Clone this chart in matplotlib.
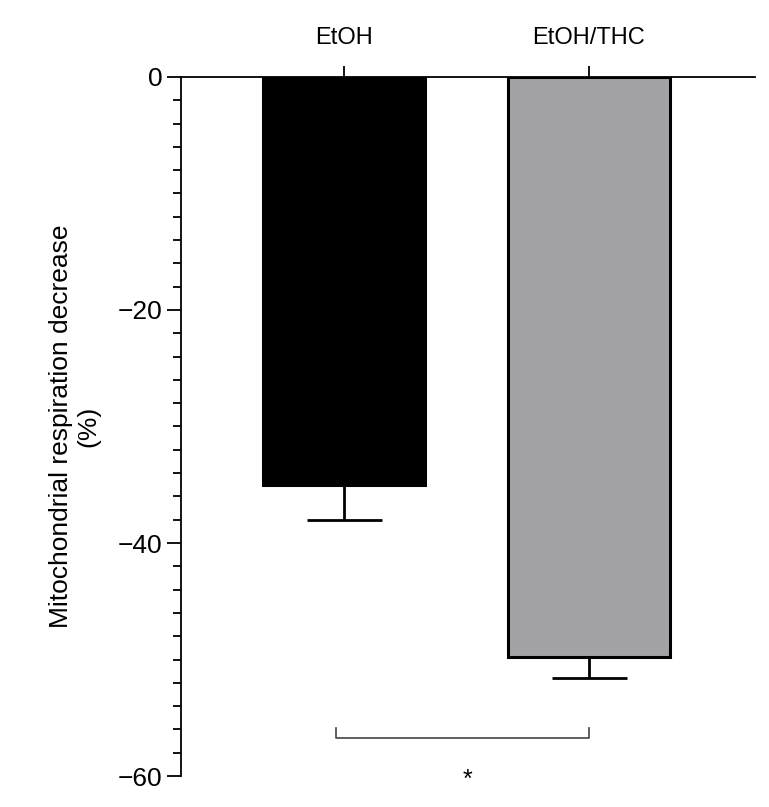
import matplotlib
matplotlib.use("Agg")
import matplotlib.pyplot as plt
from matplotlib.ticker import MultipleLocator

categories = ["EtOH", "EtOH/THC"]
values = [-35.0, -49.8]
errors = [3.0, 1.8]
colors = ["#000000", "#a3a2a6"]
bracket_y = -56.7
sig_label = "*"

plt.rcParams['font.family'] = ['Liberation Sans', 'DejaVu Sans']
fig = plt.figure(figsize=(7.69, 8.07), dpi=100)
ax = fig.add_axes([0.2354, 0.0384, 0.9818 - 0.2354, 0.9046 - 0.0384])
x = list(range(len(categories)))
ax.bar(x, values, width=0.66, color=colors, edgecolor="black", linewidth=2.2, zorder=2)
ax.errorbar(x, values, yerr=[errors, [0, 0]], fmt="none", ecolor="black",
            elinewidth=2, capsize=27, capthick=2, zorder=1)
ax.set_xlim(-0.665, 1.678)
ax.set_ylim(-60, 0)
ax.spines["bottom"].set_visible(False)
ax.spines["right"].set_visible(False)
ax.spines["top"].set_linewidth(1.3)
ax.spines["left"].set_linewidth(1.3)
ax.xaxis.tick_top()
ax.set_xticks(x)
ax.set_xticklabels(categories, fontsize=17)
ax.tick_params(axis="x", direction="out", length=8, width=1.3, pad=12)
ax.yaxis.set_major_locator(MultipleLocator(20))
ax.yaxis.set_minor_locator(MultipleLocator(2))
ax.set_yticks([0, -20, -40, -60])
ax.set_yticklabels(["0", "\u221220", "\u221240", "\u221260"], fontsize=19)
ax.tick_params(axis="y", which="major", length=10, width=1.3)
ax.tick_params(axis="y", which="minor", length=6, width=1.3)
ax.set_ylabel("Mitochondrial respiration decrease\n(%)", fontsize=19, labelpad=12)

bx0, bx1 = x[0] - 0.033, x[1]
ax.plot([bx0, bx0, bx1, bx1], [bracket_y + 0.8, bracket_y, bracket_y, bracket_y + 0.8],
        color="#444444", lw=1.2, clip_on=False)
ax.text((bx0 + bx1) / 2 + 0.02, -60.3, sig_label, ha="center", va="center", fontsize=18,
        clip_on=False)
fig.savefig("out.png", dpi=100)
